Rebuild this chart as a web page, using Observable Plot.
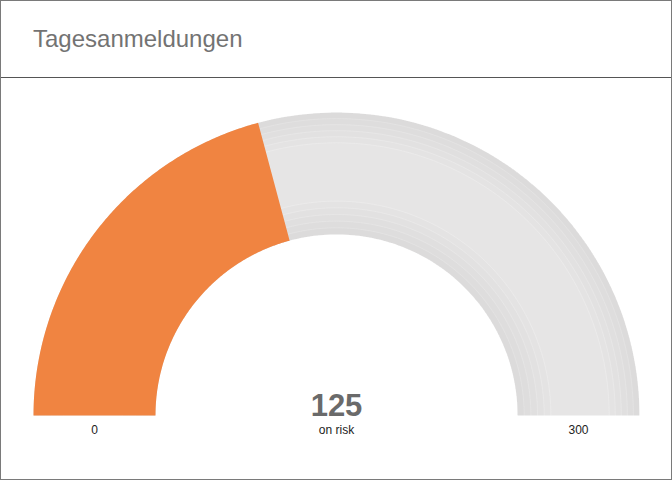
<!DOCTYPE html>
<html>
<head>
<meta charset="utf-8">
<script src="https://cdn.jsdelivr.net/npm/d3@7"></script>
<script src="https://cdn.jsdelivr.net/npm/@observablehq/plot@0.6"></script>
<style>
  html, body { margin: 0; padding: 0; background: #fff; }
  #card {
    box-sizing: border-box;
    width: 672px; height: 480px;
    border: 1px solid #7a7a7a;
    font-family: "Liberation Sans", Arial, sans-serif;
  }
  #head {
    height: 76px;
    border-bottom: 1px solid #555;
    position: relative;
  }
  #head h2 {
    position: absolute; left: 32px; top: 24px;
    margin: 0; font-weight: normal; font-size: 24px; color: #737373;
  }
  #graph svg { display: block; }
</style>
</head>
<body>
<div id="card">
  <div id="head"><h2>Tagesanmeldungen</h2></div>
  <div id="graph"></div>
</div>
<script>
const gaugeMin = 0;
const gaugeMax = 300;
const gaugeValue = 125;
const gaugeLabel = "on risk";
const tickLabels = ["0", "300"];

const innerR = 0.5974; // Verhältnis innen/außen

// Kreisbogen als Polygon, Winkel aus dem Wert
function arcPoly(v0, v1, r0, r1) {
  const ang = v => Math.PI * (1 - (v - gaugeMin) / (gaugeMax - gaugeMin));
  const n = 180;
  const pts = [];
  for (let i = 0; i <= n; i++) {
    const a = ang(v0 + (v1 - v0) * i / n);
    pts.push({x: r1 * Math.cos(a), y: r1 * Math.sin(a)});
  }
  for (let i = n; i >= 0; i--) {
    const a = ang(v0 + (v1 - v0) * i / n);
    pts.push({x: r0 * Math.cos(a), y: r0 * Math.sin(a)});
  }
  return pts;
}

function arcLine(r) {
  const pts = [];
  for (let i = 0; i <= 180; i++) {
    const a = Math.PI * (1 - i / 180);
    pts.push({x: r * Math.cos(a), y: r * Math.sin(a)});
  }
  return pts;
}

let marks = [];
// grauer Hintergrund
marks.push(Plot.line(arcPoly(gaugeMin, gaugeMax, innerR, 1), {x: "x", y: "y", fill: "#e6e5e5", stroke: "none"}));
// Schatten-Ringe
for (let k = 1; k <= 5; k++) {
  marks.push(Plot.line(arcPoly(gaugeMin, gaugeMax, 1 - k * 0.02, 1), {x: "x", y: "y", fill: "#000", fillOpacity: 0.009, stroke: "none"}));
  marks.push(Plot.line(arcLine(1 - k * 0.02), {x: "x", y: "y", stroke: "#fff", strokeOpacity: 0.35, strokeWidth: 0.6}));
  marks.push(Plot.line(arcPoly(gaugeMin, gaugeMax, innerR, innerR + k * 0.022), {x: "x", y: "y", fill: "#000", fillOpacity: 0.009, stroke: "none"}));
  marks.push(Plot.line(arcLine(innerR + k * 0.022), {x: "x", y: "y", stroke: "#fff", strokeOpacity: 0.35, strokeWidth: 0.6}));
}
// Wert
marks.push(Plot.line(arcPoly(gaugeMin, gaugeValue, innerR, 1), {x: "x", y: "y", fill: "#f08441", stroke: "none"}));

const mid = (1 + innerR) / 2;
marks.push(Plot.text([gaugeValue], {x: 0, y: 0, text: d => String(d), fontSize: 31, fontWeight: "bold", fill: "#6a6a6a", lineAnchor: "bottom", dy: 0}));
marks.push(Plot.text([gaugeLabel], {x: 0, y: 0, text: d => d, fontSize: 12, fill: "#222", lineAnchor: "bottom", dy: 18}));
marks.push(Plot.text(tickLabels, {x: (d, i) => i == 0 ? -mid : mid, y: 0, text: d => d, fontSize: 12, fill: "#222", lineAnchor: "bottom", dy: 18}));

let chart = Plot.plot({
  width: 670,
  height: 401,
  marginLeft: 32,
  marginRight: 32,
  marginTop: 34,
  marginBottom: 64,
  x: {domain: [-1, 1], axis: null},
  y: {domain: [0, 1], axis: null},
  style: {fontFamily: "Liberation Sans, Arial, sans-serif", background: "#fff"},
  marks: marks
});

d3.select("#graph").append(() => chart);
</script>
</body>
</html>
